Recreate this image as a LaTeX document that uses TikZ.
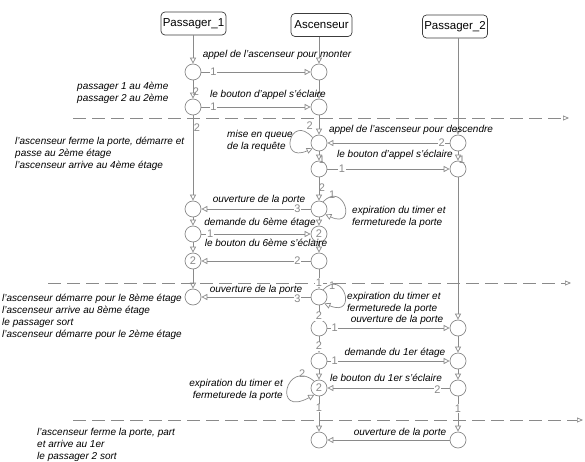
\documentclass[tikz,border=0pt]{standalone}
\usepackage{fontspec}
\setmainfont{Liberation Sans}
\usetikzlibrary{arrows.meta}
\definecolor{lc}{RGB}{138,138,138}
\definecolor{bc}{RGB}{60,60,60}
\begin{document}
\begin{tikzpicture}[x=1pt,y=-1pt,
 circ/.style={circle,draw=lc,fill=white,line width=0.7pt,minimum size=16pt,inner sep=0pt,text=lc,font=\fontsize{11}{11}\selectfont},
 hdr/.style={draw=bc,fill=white,rounded corners=4pt,minimum height=23pt,inner sep=1pt,line width=0.7pt,font=\fontsize{11.5}{12}\selectfont},
 flow/.style={draw=lc,line width=0.7pt,-{Triangle[open,length=6pt,width=6pt]}},
 numlbl/.style={text=lc,font=\fontsize{11}{11}\selectfont,inner sep=0.6pt},
 numw/.style={numlbl,fill=white},
 msgtext/.style={font=\fontsize{10}{12}\selectfont\itshape,inner sep=0pt},
 leftnote/.style={msgtext,align=left,anchor=west},
 sepline/.style={draw=lc,line width=0.7pt,dash pattern=on 13pt off 6pt,-{Triangle[open,length=6pt,width=5pt]}}
]
\useasboundingbox (0,0) rectangle (585,462);

% separators
\coordinate (d1a) at (73,118); \coordinate (d1b) at (569,118);
\coordinate (d2a) at (48,283); \coordinate (d2b) at (571,283);
\coordinate (d3a) at (73,420); \coordinate (d3b) at (583,420);
\draw[sepline] (d1a) -- (d1b);
\draw[sepline] (d2a) -- (d2b);
\draw[sepline] (d3a) -- (d3b);

% headers
\node[hdr,minimum width=65pt] (P1) at (193.5,23.5) {Passager\_1};
\node[hdr,minimum width=61pt] (Asc) at (321.5,25) {Ascenseur};
\node[hdr,minimum width=65pt] (P2) at (455,26.5) {Passager\_2};

% states
\node[circ] (A1) at (193,72) {};
\node[circ] (A2) at (193,107) {};
\node[circ] (A3) at (193,209) {};
\node[circ] (A4) at (193,234) {};
\node[circ] (A5) at (193,261) {2};
\node[circ] (A6) at (193,297) {};

\node[circ] (B1) at (319,72) {};
\node[circ] (B2) at (319,107) {};
\node[circ] (B3) at (319,143) {};
\node[circ] (B4) at (319,169) {};
\node[circ] (B5) at (319,209) {};
\node[circ] (B6) at (319,234) {2};
\node[circ] (B7) at (319,261) {};
\node[circ] (B8) at (319,297) {};
\node[circ] (B9) at (319,328) {};
\node[circ] (B10) at (319,361) {};
\node[circ] (B11) at (319,388) {2};
\node[circ] (B12) at (319,440) {};

\node[circ] (C1) at (458,143) {};
\node[circ] (C2) at (458,169) {};
\node[circ] (C3) at (458,328) {};
\node[circ] (C4) at (458,361) {};
\node[circ] (C5) at (458,388) {};
\node[circ] (C6) at (458,440) {};

% lifeline Passager_1
\draw[flow] (P1.south -| A1) -- (A1);
\draw[flow] (A1) -- node[numlbl,pos=0.63,xshift=3pt]{2} (A2);
\draw[flow] (A2) -- node[numlbl,pos=0.15,xshift=4pt]{2} (A3);
\draw[flow] (A3) -- (A4);
\draw[flow] (A4) -- (A5);
\draw[flow] (A5) -- (A6);

% lifeline Ascenseur
\draw[flow] (Asc.south -| B1) -- (B1);
\draw[flow] (B1) -- (B2);
\draw[flow] (B2) -- (B3);
\draw[flow] (B3) -- node[numlbl,pos=0.9,xshift=3pt]{1} (B4);
\draw[flow] (B4) -- node[numlbl,pos=0.46,xshift=3pt]{2} (B5);
\draw[flow] (B5) -- (B6);
\draw[flow] (B6) -- (B7);
\draw[flow] (B7) -- node[numw,pos=0.7]{1} (B8);
\draw[flow] (B8) -- node[numw,pos=0.75]{2} (B9);
\draw[flow] (B9) -- node[numw,pos=0.6]{2} (B10);
\draw[flow] (B10) -- (B11);
\draw[flow] (B11) -- node[numw,pos=0.33]{1} (B12);

% lifeline Passager_2
\draw[flow] (P2.south -| C1) -- (C1);
\draw[flow] (C1) -- node[numlbl,pos=0.9,xshift=4pt]{1} (C2);
\draw[flow] (C2) -- (C3);
\draw[flow] (C3) -- (C4);
\draw[flow] (C4) -- (C5);
\draw[flow] (C5) -- node[numw,pos=0.34]{1} (C6);

% self loops
\draw[flow] (B3.140) node[numlbl,xshift=-3pt,yshift=12pt]{2} .. controls (290,112) and (278,164) .. (B3.220);
\draw[flow] (B5.60) node[numlbl,xshift=9pt,yshift=7pt]{1} .. controls (344,180) and (358,230) .. (B5.320);
\draw[flow] (B8.60) node[numlbl,xshift=9pt,yshift=4pt]{1} .. controls (344,268) and (358,318) .. (B8.310);
\draw[flow] (B11.125) node[numlbl,xshift=-12pt,yshift=8pt]{2} .. controls (286,358) and (272,418) .. (B11.235);

% messages
\draw[flow] (A1) -- node[numw,pos=0.11]{1} (B1);
\draw[flow] (A2) -- node[numw,pos=0.11]{1} (B2);
\draw[flow] (C1) -- node[numw,pos=0.065]{2} (B3);
\draw[flow] (B4) -- node[numw,pos=0.12]{1} (C2);
\draw[flow] (B5) -- node[numw,pos=0.12]{3} (A3);
\draw[flow] (A4) -- node[numw,pos=0.08]{1} (B6);
\draw[flow] (B7) -- node[numw,pos=0.12]{2} (A5);
\draw[flow] (B8) -- node[numw,pos=0.12,yshift=-2pt]{3} (A6);
\draw[flow] (B9) -- node[numw,pos=0.06]{1} (C3);
\draw[flow] (B10) -- node[numw,pos=0.06]{1} (C4);
\draw[flow] (C5) -- node[numw,pos=0.1,yshift=-2pt]{2} (B11);
\draw[flow] (C6) -- (B12);

% message texts
\node[msgtext] (m1) at (277,55) {appel de l'ascenseur pour monter};
\node[msgtext] (m2) at (268,95) {le bouton d'appel s'éclaire};
\node[msgtext] (m3) at (411,130) {appel de l'ascenseur pour descendre};
\node[msgtext] (m4) at (395,155) {le bouton d'appel s'éclaire};
\node[msgtext] (m5) at (259,200) {ouverture de la porte};
\node[msgtext] (m6) at (260,223) {demande du 6ème étage};
\node[msgtext] (m7) at (266,243) {le bouton du 6ème s'éclaire};
\node[msgtext] (m8) at (256,290) {ouverture de la porte};
\node[msgtext] (m9) at (397,320) {ouverture de la porte};
\node[msgtext] (m10) at (395,353) {demande du 1er étage};
\node[msgtext] (m11) at (386,378) {le bouton du 1er s'éclaire};
\node[msgtext] (m12) at (400,433) {ouverture de la porte};

% loop texts
\node[leftnote] (q1) at (227,141) {mise en queue\\de la requête};
\node[leftnote] (q2) at (352,217) {expiration du timer et\\fermeturede la porte};
\node[leftnote] (q3) at (347,303) {expiration du timer et\\fermeturede la porte};
\node[msgtext,align=right,anchor=east] (q4) at (283,390) {expiration du timer et\\fermeturede la porte};

% left notes
\node[leftnote] (n1) at (77,93) {passager 1 au 4ème\\passager 2 au 2ème};
\node[leftnote] (n2) at (15,154) {l'ascenseur ferme la porte, démarre et\\passe au 2ème étage\\l'ascenseur arrive au 4ème étage};
\node[leftnote] (n3) at (2,317) {l'ascenseur démarre pour le 8ème étage\\l'ascenseur arrive au 8ème étage\\le passager sort\\l'ascenseur démarre pour le 2ème étage};
\node[leftnote] (n4) at (37,445) {l'ascenseur ferme la porte, part\\et arrive au 1er\\le passager 2 sort};
\end{tikzpicture}
\end{document}
